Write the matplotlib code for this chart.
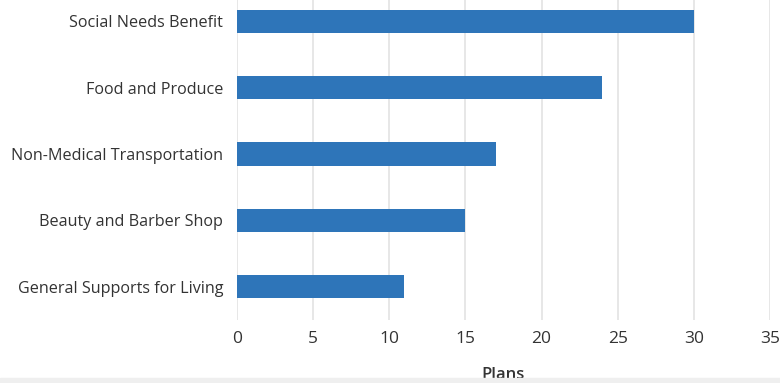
import matplotlib.pyplot as plt
from matplotlib.patches import Rectangle

plt.rcParams['font.family'] = ['Open Sans', 'DejaVu Sans']

# Plan counts per supplemental benefit
benefits = ['General Supports for Living', 'Beauty and Barber Shop',
            'Non-Medical Transportation', 'Food and Produce', 'Social Needs Benefit']
plans = [11, 15, 17, 24, 30]
x_ticks = [0, 5, 10, 15, 20, 25, 30, 35]

text_color = '#333333'
bar_color = '#2e75b9'

fig = plt.figure(figsize=(7.8, 3.83), dpi=100)
ax = fig.add_axes([0.3038, 0.1645, 0.6833, 0.8668])

ax.barh(range(len(benefits)), plans, height=0.35, color=bar_color, zorder=3)

ax.set_xlim(0, 35)
ax.set_ylim(-0.5, len(benefits) - 0.5)
ax.set_xticks(x_ticks)
ax.set_yticks(range(len(benefits)))
ax.set_yticklabels(benefits)
ax.tick_params(axis='y', length=0, pad=10, labelsize=11.6, labelcolor=text_color)
ax.tick_params(axis='x', length=0, pad=8, labelsize=12.5, labelcolor=text_color)

ax.grid(axis='x', color='#e3e3e3', linewidth=1.2, zorder=0)
for side in ax.spines.values():
    side.set_visible(False)

ax.set_xlabel('Plans', fontsize=12, color=text_color, fontweight='semibold', labelpad=14)

# light strip along the bottom edge
fig.patches.append(Rectangle((0, 0), 1, 0.014, transform=fig.transFigure,
                             color='#efefef', zorder=0))

fig.savefig('out.png', dpi=100)
